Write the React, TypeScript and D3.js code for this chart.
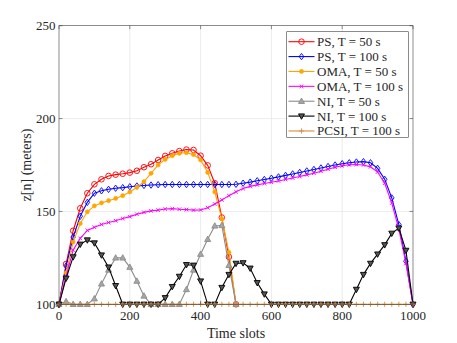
import React from 'react';
import * as d3 from 'd3';

// ---- data ----
const slots100 = d3.range(0, 1001, 20);
const slots50 = d3.range(0, 501, 20);
const xTicks = [0, 200, 400, 600, 800, 1000];
const yTicks = [100, 150, 200, 250];

const ps50 = [100, 121.7, 139.6, 151.7, 159.8, 164.6, 167.3, 169.1, 169.8, 170.3, 170.9, 171.9, 173.8, 175.4, 177.7, 179.9, 181.3, 182.5, 183.3, 183.1, 180.0, 174.8, 165.2, 146.7, 125.5, 100];
const ps100 = [100, 120.6, 136.2, 147.4, 154.9, 159.8, 161.1, 161.9, 162.5, 162.8, 163.3, 163.7, 164.0, 164.2, 164.4, 164.5, 164.5, 164.5, 164.5, 164.5, 164.5, 164.5, 164.5, 164.5, 164.5, 164.6, 165.2, 165.8, 166.5, 167.2, 167.9, 168.6, 169.4, 170.2, 171.0, 171.8, 172.6, 173.4, 174.2, 175.0, 175.7, 176.2, 176.6, 176.8, 176.2, 173.2, 167.3, 157.3, 142.9, 123.2, 100];
const oma50 = [100, 117, 133.5, 143.5, 149.8, 153.0, 154.6, 155.8, 157.0, 158.5, 160.5, 163.0, 166.0, 170.5, 175.0, 178.0, 180.0, 181.3, 181.6, 180.6, 177.7, 171.0, 160.5, 146.0, 128.0, 100];
const oma100 = [100, 115, 129.2, 135.5, 139.8, 141.5, 143.0, 144.0, 145.0, 146.2, 147.2, 148.5, 149.5, 150.3, 150.7, 151.3, 151.5, 151.2, 151.0, 150.7, 150.8, 152.0, 154.0, 156.2, 158.5, 160.6, 162.3, 163.5, 164.3, 165.0, 165.7, 166.4, 167.2, 168.0, 168.8, 169.7, 170.6, 171.6, 172.7, 173.8, 174.6, 175.1, 175.3, 175.0, 174.0, 171.2, 165.2, 154.5, 140.5, 122.0, 100];
const ni50 = [100, 101.5, 100, 100, 100, 103, 111, 118.5, 125, 125, 120, 112.5, 104.5, 100, 100, 100, 100, 100, 108, 118.5, 127, 135, 142.2, 142.5, 121, 100];
const ni100 = [100, 114, 125.5, 132.3, 134.6, 133.0, 126.5, 120.0, 110.0, 100, 100, 100, 100, 100, 100, 103.5, 109.5, 115.0, 121.3, 121.0, 112.5, 100, 100, 109.0, 116.0, 122.0, 122.3, 119.4, 111.6, 105.5, 100, 100, 100, 100, 100, 100, 100, 100, 100, 100, 100, 100, 108.0, 116.0, 122.0, 127.0, 132.0, 138.2, 141.0, 129.0, 100];
const pcsi100 = slots100.map(() => 100);

const legendLabels = [
  'PS, T = 50 s',
  'PS, T = 100 s',
  'OMA, T = 50 s',
  'OMA, T = 100 s',
  'NI, T = 50 s',
  'NI, T = 100 s',
  'PCSI, T = 100 s',
];

type MarkerKind = 'circle' | 'diamond' | 'dot' | 'x' | 'triUp' | 'triDown' | 'plus';
interface Series { xs: number[]; ys: number[]; color: string; marker: MarkerKind; label: string; }

const series: Series[] = [
  { xs: slots50, ys: ps50, color: '#ff0000', marker: 'circle', label: legendLabels[0] },
  { xs: slots100, ys: ps100, color: '#0000ff', marker: 'diamond', label: legendLabels[1] },
  { xs: slots50, ys: oma50, color: '#ffa500', marker: 'dot', label: legendLabels[2] },
  { xs: slots100, ys: oma100, color: '#ff00ff', marker: 'x', label: legendLabels[3] },
  { xs: slots50, ys: ni50, color: '#8c8c8c', marker: 'triUp', label: legendLabels[4] },
  { xs: slots100, ys: ni100, color: '#000000', marker: 'triDown', label: legendLabels[5] },
  { xs: slots100, ys: pcsi100, color: '#d98c40', marker: 'plus', label: legendLabels[6] },
];

const W = 457, H = 343;
const L = 59, R = 413, T = 25.7, B = 304.3;
const FONT = '"Liberation Serif", "Times New Roman", serif';
const TXT = '#262626';

function Marker({ kind, x, y, color }: { kind: MarkerKind; x: number; y: number; color: string }) {
  const sw = 0.9;
  switch (kind) {
    case 'circle':
      return <circle cx={x} cy={y} r={2.8} fill="none" stroke={color} strokeWidth={sw} />;
    case 'diamond':
      return <path d={`M${x},${y - 3.2}L${x + 2.3},${y}L${x},${y + 3.2}L${x - 2.3},${y}Z`} fill="none" stroke={color} strokeWidth={sw} />;
    case 'dot':
      return <circle cx={x} cy={y} r={2.1} fill={color} stroke={color} strokeWidth={0.5} />;
    case 'x':
      return <path d={`M${x - 1.8},${y - 1.8}L${x + 1.8},${y + 1.8}M${x - 1.8},${y + 1.8}L${x + 1.8},${y - 1.8}`} stroke={color} strokeWidth={sw} />;
    case 'triUp':
      return <path d={`M${x},${y - 3.2}L${x + 3},${y + 2.2}L${x - 3},${y + 2.2}Z`} fill="#a6a6a6" stroke={color} strokeWidth={sw} />;
    case 'triDown':
      return <path d={`M${x},${y + 3.2}L${x + 3},${y - 2.2}L${x - 3},${y - 2.2}Z`} fill="#555" stroke={color} strokeWidth={sw} />;
    case 'plus':
      return <path d={`M${x - 2.6},${y}L${x + 2.6},${y}M${x},${y - 2.6}L${x},${y + 2.6}`} stroke={color} strokeWidth={sw} />;
  }
}

export default function App() {
  const x = d3.scaleLinear().domain([0, 1000]).range([L, R]);
  const y = d3.scaleLinear().domain([100, 250]).range([B, T]);
  const line = d3.line<[number, number]>().x(d => x(d[0])).y(d => y(d[1]));
  const tick = 3.5;

  const legX = 286.7, legY = 31.7, legW = 121.6, legH = 105.6;
  const rowY0 = 41.7, rowStep = 14.88;

  return (
    <svg width={W} height={H} style={{ position: 'absolute', left: 0, top: 0, background: '#fff' }}>
      <rect x={0} y={0} width={W} height={H} fill="#fff" />
      {/* grid */}
      {xTicks.filter(t => t > 0 && t < 1000).map(t => (
        <line key={'gx' + t} x1={x(t)} x2={x(t)} y1={T} y2={B} stroke="#e4e4e4" strokeWidth={0.7} />
      ))}
      {yTicks.filter(t => t > 100 && t < 250).map(t => (
        <line key={'gy' + t} x1={L} x2={R} y1={y(t)} y2={y(t)} stroke="#e4e4e4" strokeWidth={0.7} />
      ))}
      {/* series */}
      {series.map((s, si) => {
        const pts = s.xs.map((xv, i) => [xv, s.ys[i]] as [number, number]);
        return (
          <g key={'s' + si}>
            <path d={line(pts) || ''} fill="none" stroke={s.color} strokeWidth={1.1} />
            {pts.map((p, i) => (
              <Marker key={i} kind={s.marker} x={x(p[0])} y={y(p[1])} color={s.color} />
            ))}
          </g>
        );
      })}
      {/* axes box */}
      <rect x={L} y={T} width={R - L} height={B - T} fill="none" stroke="#404040" strokeWidth={0.6} />
      {xTicks.map(t => (
        <g key={'tx' + t}>
          <line x1={x(t)} x2={x(t)} y1={B} y2={B - tick} stroke="#404040" strokeWidth={0.6} />
          <line x1={x(t)} x2={x(t)} y1={T} y2={T + tick} stroke="#404040" strokeWidth={0.6} />
          <text x={x(t)} y={320.3} textAnchor="middle" fontFamily={FONT} fontSize={13} fill={TXT}>{t}</text>
        </g>
      ))}
      {yTicks.map(t => (
        <g key={'ty' + t}>
          <line x1={L} x2={L + tick} y1={y(t)} y2={y(t)} stroke="#404040" strokeWidth={0.6} />
          <line x1={R} x2={R - tick} y1={y(t)} y2={y(t)} stroke="#404040" strokeWidth={0.6} />
          <text x={55.5} y={y(t) + 4.4} textAnchor="end" fontFamily={FONT} fontSize={13} fill={TXT}>{t}</text>
        </g>
      ))}
      <text x={(L + R) / 2} y={338} textAnchor="middle" fontFamily={FONT} fontSize={14} fill={TXT}>Time slots</text>
      <text transform={`translate(30.5,${(T + B) / 2}) rotate(-90)`} textAnchor="middle" fontFamily={FONT} fontSize={14} fill={TXT}>z[n] (meters)</text>
      {/* legend */}
      <rect x={legX} y={legY} width={legW} height={legH} fill="#fff" stroke="#404040" strokeWidth={0.6} />
      {series.map((s, i) => {
        const ry = rowY0 + i * rowStep;
        return (
          <g key={'lg' + i}>
            <line x1={288.5} x2={314.5} y1={ry} y2={ry} stroke={s.color} strokeWidth={1.1} />
            <Marker kind={s.marker} x={301.5} y={ry} color={s.color} />
            <text x={317} y={ry + 4.4} fontFamily={FONT} fontSize={13} fill={TXT}>{s.label}</text>
          </g>
        );
      })}
    </svg>
  );
}
